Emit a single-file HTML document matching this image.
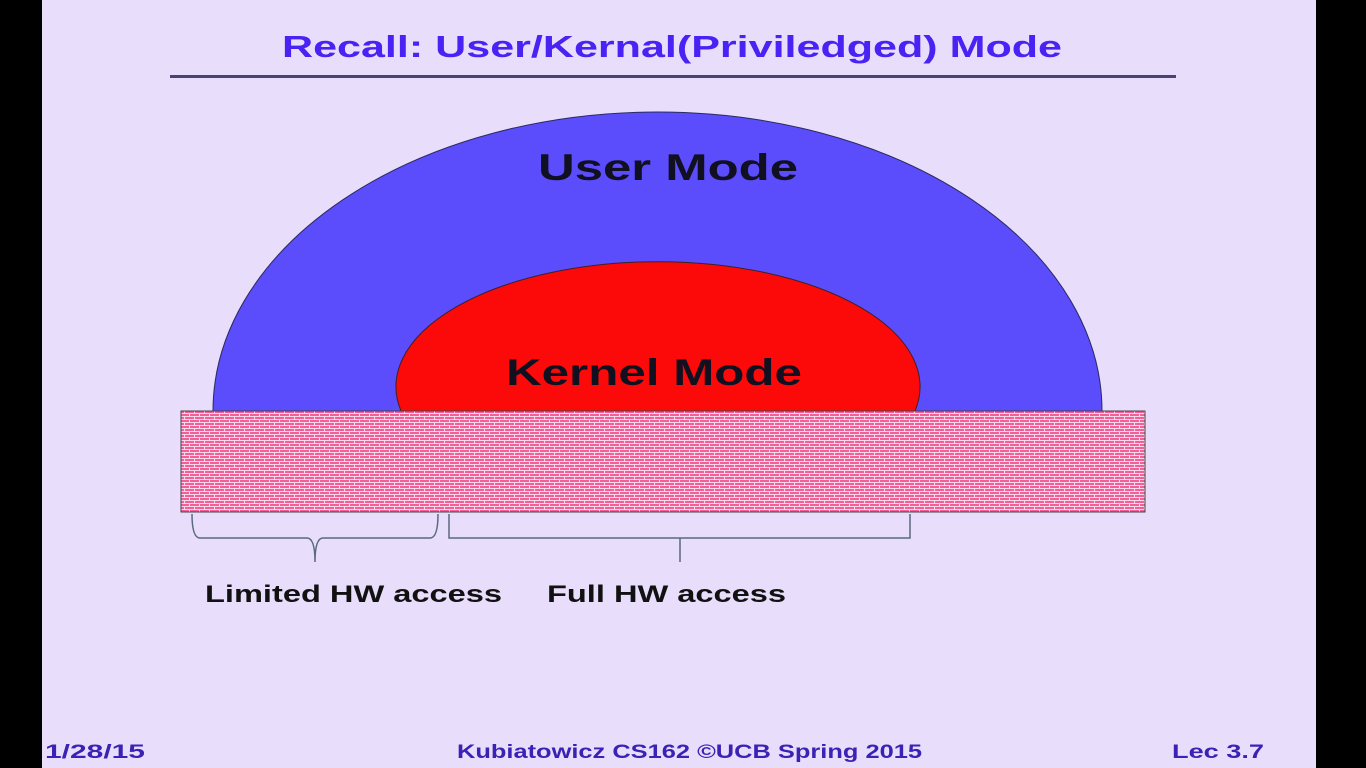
<!DOCTYPE html>
<html><head><style>
body{margin:0;width:1366px;height:768px;background:#000;overflow:hidden}
svg{display:block}
text{font-family:"Liberation Sans",sans-serif;font-weight:bold}
</style></head><body>
<svg width="1366" height="768" viewBox="0 0 1366 768">
<defs>
<pattern id="brick" width="10" height="6" patternUnits="userSpaceOnUse">
<rect width="10" height="6" fill="#fbd8ec"/>
<rect x="0" y="0" width="9" height="2" fill="#f26098"/>
<rect x="5" y="3" width="9" height="2" fill="#f26098"/>
<rect x="-5" y="3" width="9" height="2" fill="#f26098"/>
</pattern>
</defs>
<rect x="42" y="0" width="1274" height="768" fill="#e9ddfc"/>
<text x="282" y="57" font-size="31" fill="#4b22f4" textLength="780" lengthAdjust="spacingAndGlyphs">Recall: User/Kernal(Priviledged) Mode</text>
<rect x="170" y="75" width="1006" height="3" fill="#4a4470"/>
<path d="M213 411 A444.5 299 0 0 1 1102 411 Z" fill="#5b4cfc" stroke="#2a2a60" stroke-width="1"/>
<path d="M401 411 A262 125 0 1 1 915 411 Z" fill="#fc0a0a" stroke="#402020" stroke-width="1"/>
<text x="538" y="180" font-size="37" fill="#101020" textLength="260" lengthAdjust="spacingAndGlyphs">User Mode</text>
<text x="506" y="385" font-size="37" fill="#101020" textLength="296" lengthAdjust="spacingAndGlyphs">Kernel Mode</text>
<rect x="181" y="411" width="964" height="101" fill="url(#brick)" stroke="#444" stroke-width="1"/>
<g fill="none" stroke="#5a6a80" stroke-width="1.5">
<path d="M192 514 Q192 538 200 538 L307 538 Q315 538 315 562 Q315 538 323 538 L430 538 Q438 538 438 514"/>
<path d="M449 514 L449 538 L910 538 L910 514 M680 538 L680 562"/>
</g>
<text x="205" y="602" font-size="24" fill="#111" textLength="297" lengthAdjust="spacingAndGlyphs">Limited HW access</text>
<text x="547" y="602" font-size="24" fill="#111" textLength="239" lengthAdjust="spacingAndGlyphs">Full HW access</text>
<text x="45" y="758" font-size="19" fill="#3a22b4" textLength="100" lengthAdjust="spacingAndGlyphs">1/28/15</text>
<text x="457" y="758" font-size="19" fill="#3a22b4" textLength="465" lengthAdjust="spacingAndGlyphs">Kubiatowicz CS162 ©UCB Spring 2015</text>
<text x="1172" y="758" font-size="19" fill="#3a22b4" textLength="92" lengthAdjust="spacingAndGlyphs">Lec 3.7</text>
</svg>
</body></html>
